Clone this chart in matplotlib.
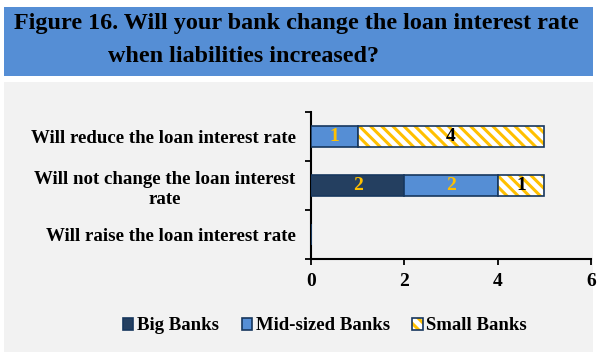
import matplotlib
matplotlib.use("Agg")
import matplotlib.pyplot as plt
from matplotlib.patches import Rectangle, Patch
import numpy as np

categories = ["Will raise the loan interest rate",
              "Will not change the loan interest\nrate",
              "Will reduce the loan interest rate"]
big = [0, 2, 0]
mid = [0, 2, 1]
small = [0, 1, 4]
series_names = ["Big Banks", "Mid-sized Banks", "Small Banks"]
xticks = [0, 2, 4, 6]

plt.rcParams['font.family'] = ['Liberation Serif', 'DejaVu Serif']
plt.rcParams['font.weight'] = 'bold'
plt.rcParams['hatch.linewidth'] = 2.2

W, H = 604, 353
fig = plt.figure(figsize=(W/100, H/100), dpi=100, facecolor='white')

BLUE = '#558ED5'
NAVY = '#243F60'
EDGE = '#17375E'
GOLD = '#FFC000'

fig.patches.append(Rectangle((4/W, 1-76/H), 589/W, 69/H, transform=fig.transFigure,
                             facecolor=BLUE, edgecolor='none', zorder=-10))
fig.patches.append(Rectangle((4/W, 1-352/H), 589/W, 270/H, transform=fig.transFigure,
                             facecolor='#F2F2F2', edgecolor='none', zorder=-10))

fig.text(14/W, 1-23/H, "Figure 16. Will your bank change the loan interest rate",
         ha='left', va='center', fontsize=17.4, fontweight='bold', color='black')
fig.text(108/W, 1-56/H, "when liabilities increased?",
         ha='left', va='center', fontsize=17.4, fontweight='bold', color='black')

ax = fig.add_axes([311/W, 1-259/H, 280/W, 147/H])
ax.set_facecolor('none')
y = np.arange(len(categories))
bh = 0.41
big = np.array(big); mid = np.array(mid); small = np.array(small)

ax.barh(y, big, height=bh, color=NAVY, edgecolor=EDGE, linewidth=1.2, zorder=3)
ax.barh(y, mid, left=big, height=bh, color=BLUE, edgecolor=EDGE, linewidth=1.2, zorder=3)
ax.barh(y, small, left=big+mid, height=bh, color='white', edgecolor=GOLD, hatch='\\\\\\',
        linewidth=0, zorder=3)
ax.barh(y, small, left=big+mid, height=bh, color='none', edgecolor=EDGE, linewidth=1.2, zorder=4)

for i in range(len(categories)):
    if big[i] > 0:
        ax.text(big[i]/2, y[i], str(big[i]), ha='center', va='center', color=GOLD,
                fontsize=14, fontweight='bold', zorder=5)
    if mid[i] > 0:
        ax.text(big[i] + mid[i]/2, y[i], str(mid[i]), ha='center', va='center', color=GOLD,
                fontsize=14, fontweight='bold', zorder=5)
    if small[i] > 0:
        ax.text(big[i] + mid[i] + small[i]/2, y[i], str(small[i]), ha='center', va='center',
                color='black', fontsize=14, fontweight='bold', zorder=5)

ax.set_xlim(0, 6)
ax.set_ylim(-0.5, 2.5)
ax.set_xticks(xticks)
ax.set_xticklabels([str(t) for t in xticks], fontsize=14, fontweight='bold')
ax.set_yticks([-0.5, 0.5, 1.5, 2.5])
ax.set_yticklabels([])
ax.set_yticks(y, minor=True)
ax.set_yticklabels(categories, minor=True, fontsize=13.6, fontweight='bold',
                   ha='right', multialignment='center', linespacing=1.25)
ax.tick_params(axis='y', which='minor', length=0, pad=11)
ax.tick_params(axis='y', which='major', length=4, width=1.3, direction='out')
ax.tick_params(axis='x', length=4, width=1.3, direction='out', pad=6)
for s in ['top', 'right']:
    ax.spines[s].set_visible(False)
for s in ['left', 'bottom']:
    ax.spines[s].set_linewidth(1.5)
    ax.spines[s].set_color('black')

small_handle = (Patch(facecolor='white', edgecolor=GOLD, hatch='\\\\\\', linewidth=0),
                Patch(facecolor='none', edgecolor=EDGE, linewidth=1.2))
handles = [Patch(facecolor=NAVY, edgecolor=EDGE, linewidth=1.2),
           Patch(facecolor=BLUE, edgecolor=EDGE, linewidth=1.2),
           small_handle]
leg = fig.legend(handles, series_names, loc='center', bbox_to_anchor=(325/W, 1-326/H),
                 ncol=3, frameon=False, handlelength=0.55, handleheight=0.55,
                 handletextpad=0.2, columnspacing=1.2, prop={'weight': 'bold', 'size': 13.5})

fig.savefig('out.png', dpi=100, facecolor='white')
